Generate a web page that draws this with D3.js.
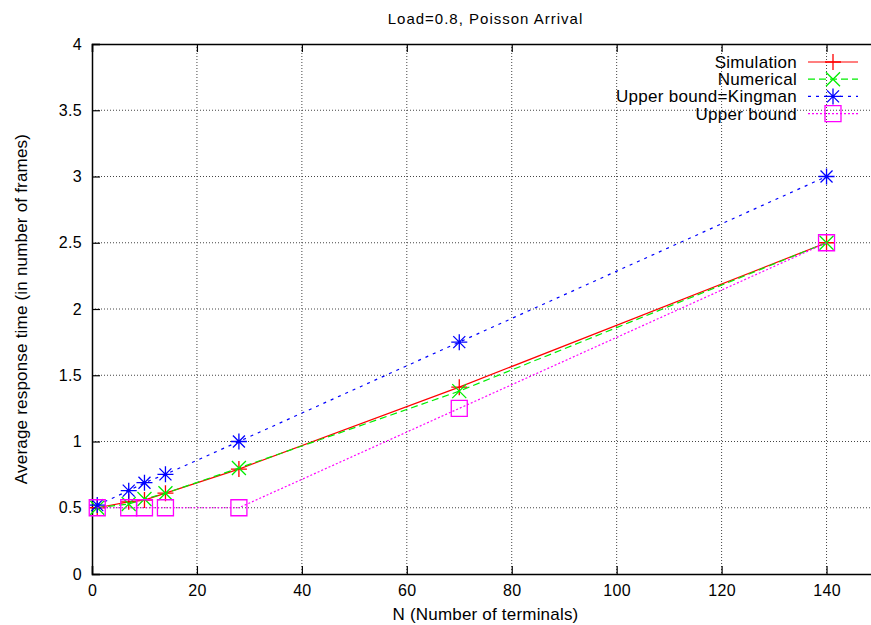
<!DOCTYPE html>
<html>
<head>
<meta charset="utf-8">
<script src="https://cdn.jsdelivr.net/npm/d3@7/dist/d3.min.js"></script>
<style>
body { margin: 0; background: #fff; }
text { font-family: "Liberation Sans", Arial, sans-serif; fill: #000; }
</style>
</head>
<body>
<div id="viz"></div>
<script>
var width = 871
var height = 625

// data
var terminals = [1, 7, 10, 14, 28, 70, 140];
var simulation = [0.5, 0.545, 0.558, 0.61, 0.792, 1.41, 2.5];
var numerical = [0.5, 0.528, 0.566, 0.609, 0.8, 1.38, 2.5];
var kingman = [0.52, 0.629, 0.689, 0.752, 1.0, 1.75, 3.0];
var upperBound = [0.5, 0.5, 0.5, 0.5, 0.5, 1.25, 2.5];
var xTicks = [0, 20, 40, 60, 80, 100, 120, 140];
var yTicks = [0, 0.5, 1, 1.5, 2, 2.5, 3, 3.5, 4];

var series = [
    {name: "Simulation", values: simulation, color: "#ff0000", dash: null, marker: "plus"},
    {name: "Numerical", values: numerical, color: "#00ee00", dash: "7,4", marker: "cross"},
    {name: "Upper bound=Kingman", values: kingman, color: "#0000ff", dash: "3,5", marker: "star"},
    {name: "Upper bound", values: upperBound, color: "#ff00ff", dash: "2,2", marker: "square"}
];

var pLeft = 92, pRight = 879, pTop = 44, pBottom = 574;

var svg = d3.select("#viz")
    .append("svg")
    .attr("width", width)
    .attr("height", height);

var x = d3.scaleLinear().domain([0, 150]).range([pLeft, pRight]);
var y = d3.scaleLinear().domain([0, 4]).range([pBottom, pTop]);

// grid
svg.append("g").selectAll("line")
    .data(xTicks.filter(function (d) { return d > 0; }))
    .enter().append("line")
    .attr("x1", function (d) { return x(d); })
    .attr("x2", function (d) { return x(d); })
    .attr("y1", pTop).attr("y2", pBottom)
    .attr("stroke", "#444").attr("stroke-width", 1)
    .attr("stroke-dasharray", "1,2");
svg.append("g").selectAll("line")
    .data(yTicks.filter(function (d) { return d > 0 && d < 4; }))
    .enter().append("line")
    .attr("y1", function (d) { return y(d); })
    .attr("y2", function (d) { return y(d); })
    .attr("x1", pLeft).attr("x2", pRight)
    .attr("stroke", "#444").attr("stroke-width", 1)
    .attr("stroke-dasharray", "1,2");

// axes
var xAxis = d3.axisBottom(x).tickValues(xTicks).tickSize(-8).tickPadding(11);
var xAxisTop = d3.axisTop(x).tickValues(xTicks).tickSize(-8).tickFormat("");
var yAxis = d3.axisLeft(y).tickValues(yTicks).tickSize(-8).tickPadding(10)
    .tickFormat(d3.format("~g"));
var yAxisRight = d3.axisRight(y).tickValues(yTicks).tickSize(-8).tickFormat("");

svg.append("g").attr("transform", "translate(0," + pBottom + ")").call(xAxis)
    .call(styleAxis);
svg.append("g").attr("transform", "translate(0," + pTop + ")").call(xAxisTop)
    .call(styleAxis);
svg.append("g").attr("transform", "translate(" + pLeft + ",0)").call(yAxis)
    .call(styleAxis);
svg.append("g").attr("transform", "translate(" + pRight + ",0)").call(yAxisRight)
    .call(styleAxis);

function styleAxis(g) {
    g.select(".domain").attr("stroke", "#000").attr("stroke-width", 1.5);
    g.selectAll(".tick line").attr("stroke", "#000").attr("stroke-width", 1.2);
    g.selectAll(".tick text").attr("font-size", null).style("font-size", "16px")
        .attr("font-family", null)
        .style("letter-spacing", "0.3px");
}

// lines
var line = d3.line()
    .x(function (d) { return x(d[0]); })
    .y(function (d) { return y(d[1]); });

series.forEach(function (s) {
    var pts = terminals.map(function (t, i) { return [t, s.values[i]]; });
    svg.append("path")
        .datum(pts)
        .attr("d", line)
        .attr("fill", "none")
        .attr("stroke", s.color)
        .attr("stroke-width", 1.2)
        .attr("stroke-dasharray", s.dash);
    pts.forEach(function (p) {
        add_marker(svg, s.marker, x(p[0]), y(p[1]), s.color);
    });
});

function add_marker(g, type, cx, cy, color) {
    var r = 8;
    var d = "";
    if (type == "plus") {
        d = "M" + (cx - r) + "," + cy + "H" + (cx + r) + "M" + cx + "," + (cy - r) + "V" + (cy + r);
    } else if (type == "cross") {
        var c = 7;
        d = "M" + (cx - c) + "," + (cy - c) + "L" + (cx + c) + "," + (cy + c) +
            "M" + (cx - c) + "," + (cy + c) + "L" + (cx + c) + "," + (cy - c);
    } else if (type == "star") {
        var c2 = 6;
        d = "M" + (cx - r) + "," + cy + "H" + (cx + r) + "M" + cx + "," + (cy - r) + "V" + (cy + r) +
            "M" + (cx - c2) + "," + (cy - c2) + "L" + (cx + c2) + "," + (cy + c2) +
            "M" + (cx - c2) + "," + (cy + c2) + "L" + (cx + c2) + "," + (cy - c2);
    } else if (type == "square") {
        d = "M" + (cx - r) + "," + (cy - r) + "h" + (2 * r) + "v" + (2 * r) + "h" + (-2 * r) + "Z";
    }
    g.append("path")
        .attr("d", d)
        .attr("fill", "none")
        .attr("stroke", color)
        .attr("stroke-width", 1.3);
}

// legend
var legendY = 62;
series.forEach(function (s, i) {
    var ly = legendY + i * 17.2;
    svg.append("text")
        .attr("x", 797)
        .attr("y", ly + 6)
        .attr("text-anchor", "end")
        .style("font-size", "17px")
        .style("letter-spacing", "0.3px")
        .text(s.name);
    svg.append("line")
        .attr("x1", 808).attr("x2", 858)
        .attr("y1", ly).attr("y2", ly)
        .attr("stroke", s.color)
        .attr("stroke-width", 1.2)
        .attr("stroke-dasharray", s.dash);
    add_marker(svg, s.marker, 833, ly, s.color);
});

// titles
svg.append("text")
    .attr("x", (pLeft + pRight) / 2)
    .attr("y", 24)
    .attr("text-anchor", "middle")
    .style("font-size", "15px")
    .style("letter-spacing", "1px")
    .text("Load=0.8, Poisson Arrival");
svg.append("text")
    .attr("x", (pLeft + pRight) / 2)
    .attr("y", 620)
    .attr("text-anchor", "middle")
    .style("font-size", "17px")
    .style("letter-spacing", "0.2px")
    .text("N (Number of terminals)");
svg.append("text")
    .attr("transform", "translate(27," + ((pTop + pBottom) / 2) + ") rotate(-90)")
    .attr("text-anchor", "middle")
    .style("font-size", "17px")
    .style("letter-spacing", "0.2px")
    .text("Average response time (in number of frames)");
</script>
</body>
</html>
